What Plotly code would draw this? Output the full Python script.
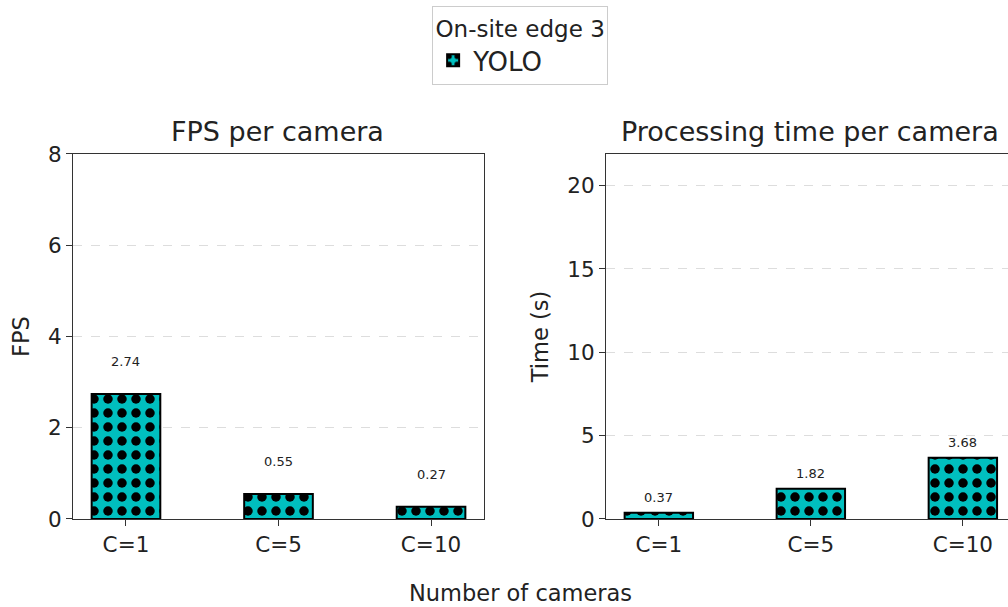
import plotly.graph_objects as go

# Data
cameras = ["C=1", "C=5", "C=10"]
fps_yolo = [2.74, 0.55, 0.27]
time_yolo = [0.37, 1.82, 3.68]
fps_ticks = [0, 2, 4, 6, 8]
time_ticks = [0, 5, 10, 15, 20]

TEAL = "#00bfbf"
FONT = "DejaVu Sans"
TXT = "#222222"
AX = "#333333"

pattern = dict(shape=".", fgcolor="black", bgcolor=TEAL, size=14,
               solidity=0.36, fillmode="overlay", fgopacity=1)

fig = go.Figure()
fig.add_trace(go.Bar(
    x=cameras, y=fps_yolo, width=0.45, name="YOLO", legendgroup="yolo",
    marker=dict(color=TEAL, line=dict(color="black", width=2), pattern=pattern),
    xaxis="x", yaxis="y", showlegend=True, hoverinfo="x+y",
))
fig.add_trace(go.Bar(
    x=cameras, y=time_yolo, width=0.45, name="YOLO", legendgroup="yolo",
    marker=dict(color=TEAL, line=dict(color="black", width=2), pattern=pattern),
    xaxis="x2", yaxis="y2", showlegend=False, hoverinfo="x+y",
))

annotations = []
# value labels above bars
for c, v in zip(cameras, fps_yolo):
    annotations.append(dict(x=c, y=v, xref="x", yref="y", text=f"{v:.2f}",
                            showarrow=False, yshift=32,
                            font=dict(family=FONT, size=13, color=TXT)))
for c, v in zip(cameras, time_yolo):
    annotations.append(dict(x=c, y=v, xref="x2", yref="y2", text=f"{v:.2f}",
                            showarrow=False, yshift=15,
                            font=dict(family=FONT, size=13, color=TXT)))

YD = [0.145, 0.7463]
# subplot titles
annotations.append(dict(x=0.2755, y=YD[1], xref="paper", yref="paper",
                        text="FPS per camera", showarrow=False,
                        xanchor="center", yanchor="bottom", yshift=5,
                        font=dict(family=FONT, size=27, color=TXT)))
annotations.append(dict(x=0.8036, y=YD[1], xref="paper", yref="paper",
                        text="Processing time per camera", showarrow=False,
                        xanchor="center", yanchor="bottom", yshift=5,
                        font=dict(family=FONT, size=27, color=TXT)))
# shared x label
annotations.append(dict(x=0.516, y=0.023, xref="paper", yref="paper",
                        text="Number of cameras", showarrow=False,
                        xanchor="center", yanchor="middle",
                        font=dict(family=FONT, size=22.5, color=TXT)))

axis_common = dict(showline=True, linecolor=AX, linewidth=1, mirror=True,
                   ticks="outside", ticklen=6, tickcolor=AX, tickwidth=1,
                   tickfont=dict(family=FONT, size=21.5, color=TXT),
                   zeroline=False, automargin=False)

fig.update_layout(
    width=1008, height=607,
    margin=dict(l=0, r=0, t=0, b=0, autoexpand=False),
    paper_bgcolor="white", plot_bgcolor="white",
    barmode="group",
    font=dict(family=FONT, color=TXT),
    annotations=annotations,
    xaxis=dict(domain=[0.0724, 0.4802], range=[-0.3475, 2.3475],
               showgrid=False, anchor="y", **axis_common),
    yaxis=dict(domain=YD, range=[0, 8], tickvals=fps_ticks,
               showgrid=True, gridcolor="#dddddd", griddash="dash", gridwidth=1,
               title=dict(text="FPS", font=dict(family=FONT, size=22.5, color=TXT),
                          standoff=12),
               anchor="x", **axis_common),
    xaxis2=dict(domain=[0.6012, 1.0], range=[-0.3475, 2.297],
                showgrid=False, anchor="y2", **axis_common),
    yaxis2=dict(domain=YD, range=[0, 21.9], tickvals=time_ticks,
                showgrid=True, gridcolor="#dddddd", griddash="dash", gridwidth=1,
                title=dict(text="Time (s)", font=dict(family=FONT, size=22.5, color=TXT),
                           standoff=12),
                anchor="x2", **axis_common),
    legend=dict(
        title=dict(text="On-site edge 3", side="top center",
                   font=dict(family=FONT, size=23, color=TXT)),
        font=dict(family=FONT, size=26, color=TXT),
        x=0.516, xanchor="center", y=0.99, yanchor="top",
        bordercolor="#cccccc", borderwidth=1, bgcolor="white",
        orientation="v", tracegroupgap=0,
    ),
    showlegend=True,
)

fig.write_html("out.html")
